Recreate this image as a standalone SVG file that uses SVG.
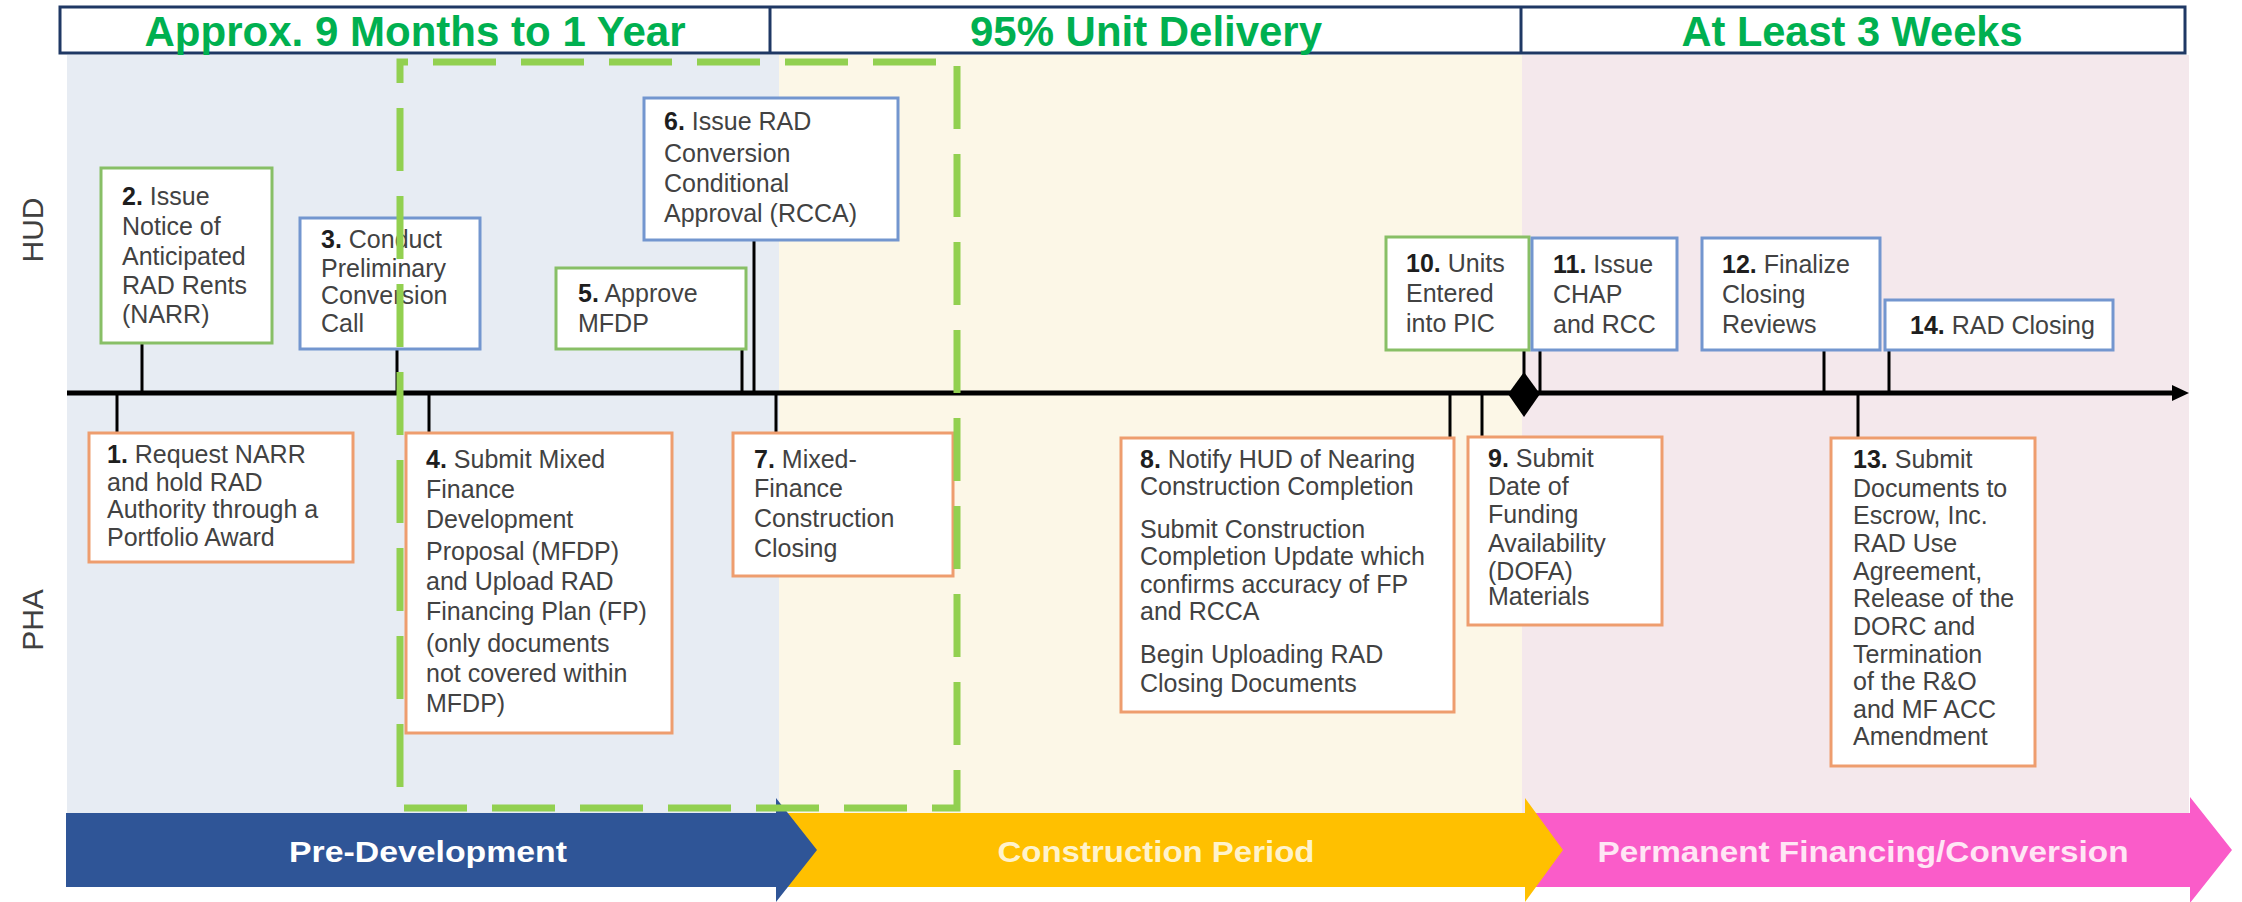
<svg xmlns="http://www.w3.org/2000/svg" width="2242" height="902" viewBox="0 0 2242 902">
<defs>
<style>
.t{font-family:"Liberation Sans",Arial,sans-serif;font-size:25px;fill:#424242}
.n{font-weight:bold;fill:#1e1e1e}
.g{stroke:#88BF66;stroke-width:3;fill:#fff}
.b{stroke:#7396CF;stroke-width:3;fill:#fff}
.o{stroke:#EE9D6E;stroke-width:3;fill:#fff}
.hd{font-family:"Liberation Sans",Arial,sans-serif;font-weight:bold;font-size:42px;fill:#00B050}
.lane{font-family:"Liberation Sans",Arial,sans-serif;font-size:30px;fill:#404040}
.ph{font-family:"Liberation Sans",Arial,sans-serif;font-weight:bold;font-size:30px}
.c{stroke:#000;stroke-width:3;fill:none}
</style>
</defs>
<rect width="2242" height="902" fill="#fff"/>
<g id="backgrounds">
<rect x="67" y="55" width="712" height="758" fill="#E7ECF3"/>
<rect x="779" y="55" width="743" height="758" fill="#FCF7E7"/>
<rect x="1522" y="55" width="667" height="758" fill="#F4E8EC"/>
</g>
<g id="header">
<rect x="60" y="7" width="2125" height="46" fill="#fff" stroke="#1F3864" stroke-width="3"/>
<line x1="770" y1="7" x2="770" y2="53" stroke="#1F3864" stroke-width="3"/>
<line x1="1521" y1="7" x2="1521" y2="53" stroke="#1F3864" stroke-width="3"/>
<text class="hd" x="415" y="46" text-anchor="middle" textLength="541" lengthAdjust="spacingAndGlyphs">Approx. 9 Months to 1 Year</text>
<text class="hd" x="1146" y="46" text-anchor="middle" textLength="352" lengthAdjust="spacingAndGlyphs">95% Unit Delivery</text>
<text class="hd" x="1852" y="46" text-anchor="middle" textLength="341" lengthAdjust="spacingAndGlyphs">At Least 3 Weeks</text>
</g>
<g id="lanes">
<text class="lane" transform="translate(43,230) rotate(-90)" text-anchor="middle">HUD</text>
<text class="lane" transform="translate(43,620) rotate(-90)" text-anchor="middle">PHA</text>
</g>
<g id="phases">
<polygon points="1525,813 2190,813 2190,797 2232,850 2190,903 2190,887 1525,887" fill="#FA5CC9"/>
<polygon points="776,813 1525,813 1525,798 1563,850 1525,902 1525,887 776,887" fill="#FFC000"/>
<polygon points="66,813 776,813 776,798 817,850 776,902 776,887 66,887" fill="#2F5597"/>
<text class="ph" x="428" y="862" text-anchor="middle" fill="#FFFFFF" textLength="278" lengthAdjust="spacingAndGlyphs">Pre-Development</text>
<text class="ph" x="1156" y="862" text-anchor="middle" fill="#FFF3CC" textLength="317" lengthAdjust="spacingAndGlyphs">Construction Period</text>
<text class="ph" x="1863" y="862" text-anchor="middle" fill="#FFE6F5" textLength="531" lengthAdjust="spacingAndGlyphs">Permanent Financing/Conversion</text>
</g>
<g id="connectors">
<line x1="67" y1="393" x2="2176" y2="393" stroke="#000" stroke-width="5"/>
<polygon points="2172,385 2189,393 2172,401" fill="#000"/>
<line class="c" x1="142" y1="343" x2="142" y2="393"/>
<line class="c" x1="397" y1="349" x2="397" y2="393"/>
<line class="c" x1="742" y1="349" x2="742" y2="393"/>
<line class="c" x1="754" y1="240" x2="754" y2="393"/>
<line class="c" x1="1524" y1="350" x2="1524" y2="393"/>
<line class="c" x1="1540" y1="350" x2="1540" y2="393"/>
<line class="c" x1="1824" y1="350" x2="1824" y2="393"/>
<line class="c" x1="1889" y1="350" x2="1889" y2="393"/>
<line class="c" x1="117" y1="393" x2="117" y2="433"/>
<line class="c" x1="429" y1="393" x2="429" y2="433"/>
<line class="c" x1="776" y1="393" x2="776" y2="433"/>
<line class="c" x1="1450" y1="393" x2="1450" y2="438"/>
<line class="c" x1="1482" y1="393" x2="1482" y2="437"/>
<line class="c" x1="1858" y1="393" x2="1858" y2="438"/>
<polygon points="1524,372 1540,394 1524,417 1508,394" fill="#000"/>
</g>
<g id="node1">
<rect class="o" x="89" y="433" width="264" height="129"/>
<text class="t"><tspan x="107" y="463"><tspan class="n">1.</tspan> Request NARR</tspan><tspan x="107" y="491">and hold RAD</tspan><tspan x="107" y="518">Authority through a</tspan><tspan x="107" y="546">Portfolio Award</tspan></text>
</g>
<g id="node2">
<rect class="g" x="101" y="168" width="171" height="175"/>
<text class="t"><tspan x="122" y="205"><tspan class="n">2.</tspan> Issue</tspan><tspan x="122" y="235">Notice of</tspan><tspan x="122" y="265">Anticipated</tspan><tspan x="122" y="294">RAD Rents</tspan><tspan x="122" y="323">(NARR)</tspan></text>
</g>
<g id="node3">
<rect class="b" x="300" y="218" width="180" height="131"/>
<text class="t"><tspan x="321" y="248"><tspan class="n">3.</tspan> Conduct</tspan><tspan x="321" y="277">Preliminary</tspan><tspan x="321" y="304">Conversion</tspan><tspan x="321" y="332">Call</tspan></text>
</g>
<g id="node4">
<rect class="o" x="406" y="433" width="266" height="300"/>
<text class="t"><tspan x="426" y="468"><tspan class="n">4.</tspan> Submit Mixed</tspan><tspan x="426" y="498">Finance</tspan><tspan x="426" y="528">Development</tspan><tspan x="426" y="560">Proposal (MFDP)</tspan><tspan x="426" y="590">and Upload RAD</tspan><tspan x="426" y="620">Financing Plan (FP)</tspan><tspan x="426" y="652">(only documents</tspan><tspan x="426" y="682">not covered within</tspan><tspan x="426" y="712">MFDP)</tspan></text>
</g>
<g id="node5">
<rect class="g" x="556" y="268" width="190" height="81"/>
<text class="t"><tspan x="578" y="302"><tspan class="n">5.</tspan> Approve</tspan><tspan x="578" y="332">MFDP</tspan></text>
</g>
<g id="node6">
<rect class="b" x="644" y="98" width="254" height="142"/>
<text class="t"><tspan x="664" y="130"><tspan class="n">6.</tspan> Issue RAD</tspan><tspan x="664" y="162">Conversion</tspan><tspan x="664" y="192">Conditional</tspan><tspan x="664" y="222">Approval (RCCA)</tspan></text>
</g>
<g id="node7">
<rect class="o" x="733" y="433" width="220" height="143"/>
<text class="t"><tspan x="754" y="468"><tspan class="n">7.</tspan> Mixed-</tspan><tspan x="754" y="497">Finance</tspan><tspan x="754" y="527">Construction</tspan><tspan x="754" y="557">Closing</tspan></text>
</g>
<g id="node8">
<rect class="o" x="1121" y="438" width="333" height="274"/>
<text class="t"><tspan x="1140" y="468"><tspan class="n">8.</tspan> Notify HUD of Nearing</tspan><tspan x="1140" y="495">Construction Completion</tspan><tspan x="1140" y="538">Submit Construction</tspan><tspan x="1140" y="565">Completion Update which</tspan><tspan x="1140" y="593">confirms accuracy of FP</tspan><tspan x="1140" y="620">and RCCA</tspan><tspan x="1140" y="663">Begin Uploading RAD</tspan><tspan x="1140" y="692">Closing Documents</tspan></text>
</g>
<g id="node9">
<rect class="o" x="1468" y="437" width="194" height="188"/>
<text class="t"><tspan x="1488" y="467"><tspan class="n">9.</tspan> Submit</tspan><tspan x="1488" y="495">Date of</tspan><tspan x="1488" y="523">Funding</tspan><tspan x="1488" y="552">Availability</tspan><tspan x="1488" y="580">(DOFA)</tspan><tspan x="1488" y="605">Materials</tspan></text>
</g>
<g id="node10">
<rect class="g" x="1386" y="237" width="143" height="113"/>
<text class="t"><tspan x="1406" y="272"><tspan class="n">10.</tspan> Units</tspan><tspan x="1406" y="302">Entered</tspan><tspan x="1406" y="332">into PIC</tspan></text>
</g>
<g id="node11">
<rect class="b" x="1532" y="238" width="145" height="112"/>
<text class="t"><tspan x="1553" y="273"><tspan class="n">11.</tspan> Issue</tspan><tspan x="1553" y="303">CHAP</tspan><tspan x="1553" y="333">and RCC</tspan></text>
</g>
<g id="node12">
<rect class="b" x="1702" y="238" width="178" height="112"/>
<text class="t"><tspan x="1722" y="273"><tspan class="n">12.</tspan> Finalize</tspan><tspan x="1722" y="303">Closing</tspan><tspan x="1722" y="333">Reviews</tspan></text>
</g>
<g id="node13">
<rect class="o" x="1831" y="438" width="204" height="328"/>
<text class="t"><tspan x="1853" y="468"><tspan class="n">13.</tspan> Submit</tspan><tspan x="1853" y="497">Documents to</tspan><tspan x="1853" y="524">Escrow, Inc.</tspan><tspan x="1853" y="552">RAD Use</tspan><tspan x="1853" y="580">Agreement,</tspan><tspan x="1853" y="607">Release of the</tspan><tspan x="1853" y="635">DORC and</tspan><tspan x="1853" y="663">Termination</tspan><tspan x="1853" y="690">of the R&amp;O</tspan><tspan x="1853" y="718">and MF ACC</tspan><tspan x="1853" y="745">Amendment</tspan></text>
</g>
<g id="node14">
<rect class="b" x="1885" y="300" width="228" height="50"/>
<text class="t"><tspan x="1910" y="334"><tspan class="n">14.</tspan> RAD Closing</tspan></text>
</g>
<g id="highlight">
<path d="M400,62 H957 V808 H400 Z" fill="none" stroke="#92D050" stroke-width="7" stroke-dasharray="63 25" stroke-dashoffset="55"/>
</g>
</svg>
